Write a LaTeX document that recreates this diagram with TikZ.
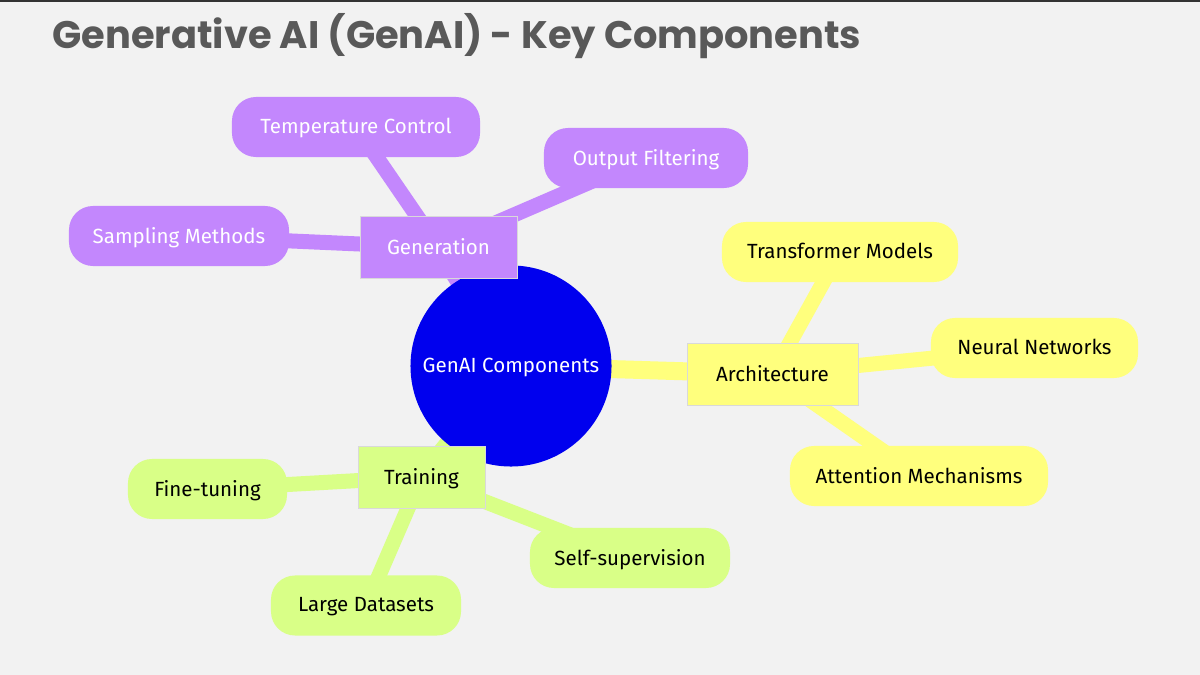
\documentclass[tikz,border=0pt]{standalone}
\usepackage{fontspec}
\setmainfont{Fira Sans}
\newfontfamily\titlefont{Poppins}
\usetikzlibrary{positioning}

\definecolor{sfondo}{HTML}{F2F2F2}
\definecolor{viola}{HTML}{C387FD}
\definecolor{giallo}{HTML}{FFFF7D}
\definecolor{verde}{HTML}{D9FF87}
\definecolor{radice}{HTML}{0000EE}
\definecolor{titolo}{HTML}{595959}

\pgfdeclarelayer{fondo}
\pgfdeclarelayer{rami}
\pgfsetlayers{fondo,rami,main}

\tikzset{
  testo/.style={font=\fontsize{14.6}{16}\selectfont, text depth=1pt},
  ramo/.style={testo, rectangle, minimum height=1.55cm, fill=#1, draw=black!15, line width=0.4pt},
  foglia/.style={testo, rectangle, rounded corners=0.6cm, minimum height=1.5cm, fill=#1},
  linea/.style={draw=#1, line width=0.375cm},
  lineaR/.style={draw=#1, line width=0.45cm}
}

\begin{document}
\begin{tikzpicture}[x=0.025cm, y=-0.025cm]
    \useasboundingbox (0,0) rectangle (1200,675);
    \begin{pgfonlayer}{fondo}
      \fill[sfondo] (0,0) rectangle (1200,675);
      \draw[black!80, line width=1.2pt] (0,1) -- (1200,1);
    \end{pgfonlayer}

    % titolo
    \node[anchor=base west, inner sep=0, text=titolo,
          font=\titlefont\bfseries\fontsize{27.3}{30}\selectfont] (title)
      at (52,49) {Generative AI (GenAI) - Key Components};

    % nodo centrale
    \node[circle, minimum size=5.025cm, inner sep=0, fill=radice, text=white, testo]
      (root) at (511,366) {GenAI Components};

    % generazione
    \node[ramo=viola, minimum width=3.925cm, text=white] (gen) at (438.5,247.5) {Generation};
    \node[foglia=viola, minimum width=6.2cm, text=white] (temp) at (356,127) {Temperature Control};
    \node[foglia=viola, minimum width=5.1cm, text=white] (filt) at (646,158) {Output Filtering};
    \node[foglia=viola, minimum width=5.5cm, text=white] (samp) at (179,236) {Sampling Methods};

    % architettura
    \node[ramo=giallo, minimum width=4.275cm] (arch) at (772.5,374) {Architecture};
    \node[foglia=giallo, minimum width=5.9cm] (trans) at (840,252) {Transformer Models};
    \node[foglia=giallo, minimum width=5.175cm] (neur) at (1034.5,348) {Neural Networks};
    \node[foglia=giallo, minimum width=6.45cm] (att) at (919,476) {Attention Mechanisms};

    % addestramento
    \node[ramo=verde, minimum width=3.175cm] (train) at (421.5,477) {Training};
    \node[foglia=verde, minimum width=3.975cm] (fine) at (207.5,489) {Fine-tuning};
    \node[foglia=verde, minimum width=4.75cm] (data) at (366,605.5) {Large Datasets};
    \node[foglia=verde, minimum width=5cm] (self) at (630,558) {Self-supervision};

    % collegamenti
    \begin{pgfonlayer}{rami}
      \draw[lineaR=viola] (root.center) -- (gen.center);
      \draw[lineaR=giallo] (root.center) -- (arch.center);
      \draw[lineaR=verde] (root.center) -- (train.center);
      \foreach \b/\f in {temp/gen, filt/gen, samp/gen} {
        \draw[linea=viola] (\f.center) -- (\b.center);
      }
      \foreach \b/\f in {trans/arch, neur/arch, att/arch} {
        \draw[linea=giallo] (\f.center) -- (\b.center);
      }
      \foreach \b/\f in {fine/train, data/train, self/train} {
        \draw[linea=verde] (\f.center) -- (\b.center);
      }
    \end{pgfonlayer}
  \end{tikzpicture}
\end{document}
